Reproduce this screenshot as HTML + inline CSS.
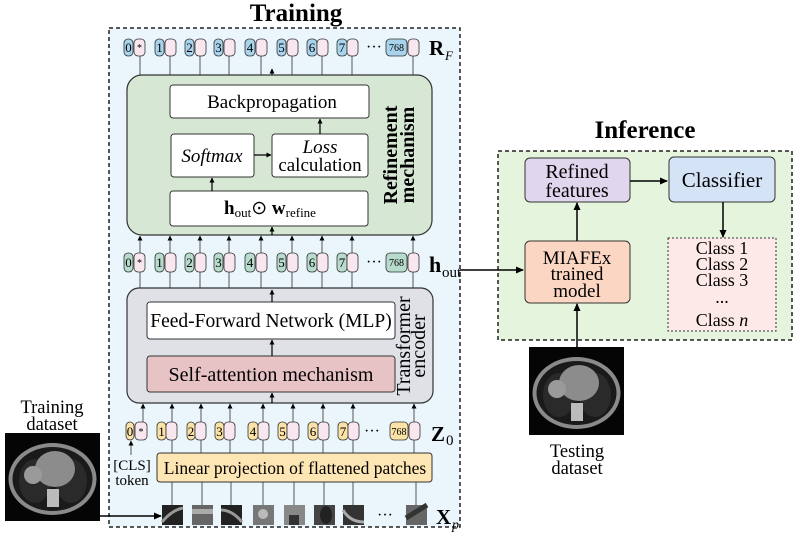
<!DOCTYPE html>
<html><head><meta charset="utf-8"><style>
html,body{margin:0;padding:0;background:#fff}
svg{display:block;font-family:"Liberation Serif",serif}
</style></head><body>
<svg width="797" height="536" viewBox="0 0 797 536" xmlns="http://www.w3.org/2000/svg">
<defs>
<marker id="ah" markerWidth="8" markerHeight="8" refX="7" refY="4" orient="auto" markerUnits="userSpaceOnUse"><path d="M0,0.5 L8,4 L0,7.5 z" fill="#000"/></marker>
<marker id="as" markerWidth="5" markerHeight="5" refX="4.5" refY="2.5" orient="auto" markerUnits="userSpaceOnUse"><path d="M0,0 L5,2.5 L0,5 z" fill="#000"/></marker>
<g id="ct">
<rect x="0" y="0" width="95" height="88" fill="#050505"/>
<ellipse cx="47.5" cy="46" rx="44" ry="36" fill="#8a8a8a"/>
<ellipse cx="47.5" cy="46" rx="40" ry="32" fill="#1a1a1a"/>
<ellipse cx="30" cy="48" rx="16" ry="22" fill="#2a2a2a"/>
<ellipse cx="66" cy="48" rx="16" ry="22" fill="#2a2a2a"/>
<ellipse cx="50" cy="36" rx="20" ry="18" fill="#8c8c8c"/>
<circle cx="28" cy="42" r="9" fill="#9a9a9a"/>
<rect x="42" y="56" width="12" height="18" fill="#bbb"/>
</g>
</defs>

<!-- Training -->
<text x="296" y="21" font-size="25" font-weight="bold" text-anchor="middle">Training</text>
<rect x="109" y="28" width="351" height="499" fill="#eaf6fb" stroke="#222" stroke-width="1.5" stroke-dasharray="4,3"/>

<g stroke="#555" stroke-width="1">
<line x1="140" y1="55" x2="140" y2="75"/><line x1="170" y1="55" x2="170" y2="75"/><line x1="200" y1="55" x2="200" y2="75"/><line x1="229" y1="55" x2="229" y2="75"/><line x1="261" y1="55" x2="261" y2="75"/><line x1="292" y1="55" x2="292" y2="75"/><line x1="322" y1="55" x2="322" y2="75"/><line x1="352" y1="55" x2="352" y2="75"/><line x1="413" y1="55" x2="413" y2="75"/>
</g>
<line x1="272" y1="75" x2="272" y2="69" stroke="#000" stroke-width="1.2" marker-end="url(#as)"/>

<g stroke="#333" stroke-width="0.8" font-size="13" text-anchor="middle">
<rect x="124" y="39" width="9" height="17" rx="4" fill="#a8d3ec"/><text x="128.5" y="52" stroke="none">0</text>
<rect x="134" y="39" width="11" height="17" rx="4" fill="#f9e7ef"/><text x="139.5" y="51" stroke="none" font-size="10">*</text>
<rect x="155" y="39" width="9" height="17" rx="4" fill="#a8d3ec"/><text x="159.5" y="52" stroke="none">1</text><rect x="165" y="39" width="11" height="17" rx="4" fill="#f9e7ef"/>
<rect x="185" y="39" width="9" height="17" rx="4" fill="#a8d3ec"/><text x="189.5" y="52" stroke="none">2</text><rect x="195" y="39" width="11" height="17" rx="4" fill="#f9e7ef"/>
<rect x="214" y="39" width="9" height="17" rx="4" fill="#a8d3ec"/><text x="218.5" y="52" stroke="none">3</text><rect x="224" y="39" width="11" height="17" rx="4" fill="#f9e7ef"/>
<rect x="245" y="39" width="10" height="17" rx="4" fill="#a8d3ec"/><text x="250" y="52" stroke="none">4</text><rect x="256" y="39" width="11" height="17" rx="4" fill="#f9e7ef"/>
<rect x="277" y="39" width="9" height="17" rx="4" fill="#a8d3ec"/><text x="281.5" y="52" stroke="none">5</text><rect x="287" y="39" width="11" height="17" rx="4" fill="#f9e7ef"/>
<rect x="307" y="39" width="10" height="17" rx="4" fill="#a8d3ec"/><text x="312" y="52" stroke="none">6</text><rect x="317" y="39" width="11" height="17" rx="4" fill="#f9e7ef"/>
<rect x="337" y="39" width="10" height="17" rx="4" fill="#a8d3ec"/><text x="342" y="52" stroke="none">7</text><rect x="347" y="39" width="11" height="17" rx="4" fill="#f9e7ef"/>
<rect x="386" y="39" width="21" height="17" rx="4" fill="#a8d3ec"/><text x="396.5" y="51" stroke="none" font-size="10">768</text><rect x="408" y="39" width="11" height="17" rx="4" fill="#f9e7ef"/>
</g>
<text x="374" y="52" font-size="16" text-anchor="middle">···</text>
<text x="429" y="55" font-size="21" font-weight="bold">R</text><text x="445" y="60" font-size="13" font-style="italic">F</text>

<!-- Refinement -->
<rect x="127" y="75" width="305" height="160" rx="15" fill="#d6e8d4" stroke="#333" stroke-width="1.2"/>
<rect x="170" y="85" width="199" height="33" rx="3" fill="#fff" stroke="#333" stroke-width="1"/>
<text x="272" y="108" font-size="19" text-anchor="middle">Backpropagation</text>
<rect x="171" y="134" width="83" height="43" rx="3" fill="#fff" stroke="#333" stroke-width="1"/>
<text x="212" y="162" font-size="19" font-style="italic" text-anchor="middle">Softmax</text>
<rect x="272" y="134" width="96" height="43" rx="3" fill="#fff" stroke="#333" stroke-width="1"/>
<text x="320" y="153" font-size="19" font-style="italic" text-anchor="middle">Loss</text>
<text x="320" y="171" font-size="19" text-anchor="middle">calculation</text>
<rect x="170" y="191" width="198" height="35" rx="3" fill="#fff" stroke="#333" stroke-width="1"/>
<text x="270" y="214" font-size="19" text-anchor="middle"><tspan font-weight="bold">h</tspan><tspan font-size="13" dy="3">out</tspan><tspan dy="-3">⊙ </tspan><tspan font-weight="bold">w</tspan><tspan font-size="13" dy="3">refine</tspan></text>
<text transform="translate(400,155) rotate(-90)" font-size="20" font-weight="bold" text-anchor="middle"><tspan x="0" y="-3">Refinement</tspan><tspan x="0" y="14">mechanism</tspan></text>
<line x1="320" y1="134" x2="320" y2="119" stroke="#000" stroke-width="1.2" marker-end="url(#as)"/>
<line x1="254" y1="155" x2="271" y2="155" stroke="#000" stroke-width="1.2" marker-end="url(#as)"/>
<line x1="212" y1="191" x2="212" y2="178" stroke="#000" stroke-width="1.2" marker-end="url(#as)"/>
<line x1="272" y1="235" x2="272" y2="227" stroke="#000" stroke-width="1.2" marker-end="url(#as)"/>

<g stroke="#555" stroke-width="1" marker-end="url(#as)">
<line x1="140" y1="288" x2="140" y2="236"/><line x1="170" y1="288" x2="170" y2="236"/><line x1="200" y1="288" x2="200" y2="236"/><line x1="229" y1="288" x2="229" y2="236"/><line x1="261" y1="288" x2="261" y2="236"/><line x1="292" y1="288" x2="292" y2="236"/><line x1="322" y1="288" x2="322" y2="236"/><line x1="352" y1="288" x2="352" y2="236"/><line x1="413" y1="288" x2="413" y2="236"/>
</g>
<g stroke="#333" stroke-width="0.8" font-size="13" text-anchor="middle">
<rect x="124" y="253" width="9" height="19" rx="4" fill="#b7dccd"/><text x="128.5" y="267" stroke="none">0</text>
<rect x="134" y="253" width="11" height="19" rx="4" fill="#f9e7ef"/><text x="139.5" y="266" stroke="none" font-size="10">*</text>
<rect x="155" y="253" width="9" height="19" rx="4" fill="#b7dccd"/><text x="159.5" y="267" stroke="none">1</text><rect x="165" y="253" width="11" height="19" rx="4" fill="#f9e7ef"/>
<rect x="185" y="253" width="9" height="19" rx="4" fill="#b7dccd"/><text x="189.5" y="267" stroke="none">2</text><rect x="195" y="253" width="11" height="19" rx="4" fill="#f9e7ef"/>
<rect x="214" y="253" width="9" height="19" rx="4" fill="#b7dccd"/><text x="218.5" y="267" stroke="none">3</text><rect x="224" y="253" width="11" height="19" rx="4" fill="#f9e7ef"/>
<rect x="245" y="253" width="10" height="19" rx="4" fill="#b7dccd"/><text x="250" y="267" stroke="none">4</text><rect x="256" y="253" width="11" height="19" rx="4" fill="#f9e7ef"/>
<rect x="277" y="253" width="9" height="19" rx="4" fill="#b7dccd"/><text x="281.5" y="267" stroke="none">5</text><rect x="287" y="253" width="11" height="19" rx="4" fill="#f9e7ef"/>
<rect x="307" y="253" width="10" height="19" rx="4" fill="#b7dccd"/><text x="312" y="267" stroke="none">6</text><rect x="317" y="253" width="11" height="19" rx="4" fill="#f9e7ef"/>
<rect x="337" y="253" width="10" height="19" rx="4" fill="#b7dccd"/><text x="342" y="267" stroke="none">7</text><rect x="347" y="253" width="11" height="19" rx="4" fill="#f9e7ef"/>
<rect x="386" y="253" width="21" height="19" rx="4" fill="#b7dccd"/><text x="396.5" y="266" stroke="none" font-size="10">768</text><rect x="408" y="253" width="11" height="19" rx="4" fill="#f9e7ef"/>
</g>
<text x="374" y="267" font-size="16" text-anchor="middle">···</text>
<text x="429" y="272" font-size="22" font-weight="bold">h</text><text x="442" y="277" font-size="15">out</text>

<!-- Transformer -->
<rect x="127" y="288" width="306" height="115" rx="12" fill="#dfe1e6" stroke="#333" stroke-width="1.2"/>
<rect x="147" y="302" width="248" height="37" rx="3" fill="#fff" stroke="#333" stroke-width="1"/>
<text x="271" y="327" font-size="19.5" text-anchor="middle">Feed-Forward Network (MLP)</text>
<rect x="147" y="356" width="248" height="36" rx="3" fill="#e8c3c5" stroke="#333" stroke-width="1"/>
<text x="271" y="381" font-size="20" text-anchor="middle">Self-attention mechanism</text>
<text transform="translate(413,346) rotate(-90)" font-size="20" text-anchor="middle"><tspan x="0" y="-3">Transformer</tspan><tspan x="0" y="12">encoder</tspan></text>
<line x1="272" y1="356" x2="272" y2="340" stroke="#000" stroke-width="1.2" marker-end="url(#as)"/>
<line x1="272" y1="302" x2="272" y2="290" stroke="#000" stroke-width="1.2" marker-end="url(#as)"/>
<line x1="272" y1="403" x2="272" y2="393" stroke="#000" stroke-width="1.2" marker-end="url(#as)"/>

<g stroke="#555" stroke-width="1" marker-end="url(#as)">
<line x1="143" y1="422" x2="143" y2="404"/><line x1="172" y1="453" x2="172" y2="404"/><line x1="201" y1="422" x2="201" y2="404"/><line x1="230" y1="422" x2="230" y2="404"/><line x1="263" y1="453" x2="263" y2="404"/><line x1="293" y1="422" x2="293" y2="404"/><line x1="323" y1="422" x2="323" y2="404"/><line x1="353" y1="422" x2="353" y2="404"/><line x1="414" y1="453" x2="414" y2="404"/>
</g>
<g stroke="#555" stroke-width="1">
<line x1="201" y1="440" x2="201" y2="453"/><line x1="230" y1="440" x2="230" y2="453"/><line x1="293" y1="440" x2="293" y2="453"/><line x1="323" y1="440" x2="323" y2="453"/><line x1="353" y1="440" x2="353" y2="453"/>
<line x1="172" y1="482" x2="172" y2="505"/><line x1="202" y1="482" x2="202" y2="505"/><line x1="231" y1="482" x2="231" y2="505"/><line x1="263" y1="482" x2="263" y2="505"/><line x1="294" y1="482" x2="294" y2="505"/><line x1="324" y1="482" x2="324" y2="505"/><line x1="353" y1="482" x2="353" y2="505"/><line x1="416" y1="482" x2="416" y2="505"/>
</g>
<g stroke="#333" stroke-width="0.8" font-size="13" text-anchor="middle">
<rect x="126" y="422" width="8" height="18" rx="4" fill="#fbe2a6"/><text x="130" y="436" stroke="none">0</text>
<rect x="135" y="422" width="12" height="18" rx="4" fill="#f9e7ef"/><text x="141" y="435" stroke="none" font-size="10">*</text>
<rect x="157" y="422" width="9" height="18" rx="4" fill="#fbe2a6"/><text x="161.5" y="436" stroke="none">1</text><rect x="166" y="422" width="11" height="18" rx="4" fill="#f9e7ef"/>
<rect x="187" y="422" width="8" height="18" rx="4" fill="#fbe2a6"/><text x="191" y="436" stroke="none">2</text><rect x="195" y="422" width="11" height="18" rx="4" fill="#f9e7ef"/>
<rect x="215" y="422" width="9" height="18" rx="4" fill="#fbe2a6"/><text x="219.5" y="436" stroke="none">3</text><rect x="224" y="422" width="11" height="18" rx="4" fill="#f9e7ef"/>
<rect x="248" y="422" width="10" height="18" rx="4" fill="#fbe2a6"/><text x="253" y="436" stroke="none">4</text><rect x="258" y="422" width="11" height="18" rx="4" fill="#f9e7ef"/>
<rect x="278" y="422" width="9" height="18" rx="4" fill="#fbe2a6"/><text x="282.5" y="436" stroke="none">5</text><rect x="287" y="422" width="12" height="18" rx="4" fill="#f9e7ef"/>
<rect x="308" y="422" width="10" height="18" rx="4" fill="#fbe2a6"/><text x="313" y="436" stroke="none">6</text><rect x="318" y="422" width="11" height="18" rx="4" fill="#f9e7ef"/>
<rect x="338" y="422" width="10" height="18" rx="4" fill="#fbe2a6"/><text x="343" y="436" stroke="none">7</text><rect x="348" y="422" width="11" height="18" rx="4" fill="#f9e7ef"/>
<rect x="390" y="422" width="18" height="18" rx="4" fill="#fbe2a6"/><text x="399" y="435" stroke="none" font-size="10">768</text><rect x="409" y="422" width="11" height="18" rx="4" fill="#f9e7ef"/>
</g>
<text x="372" y="436" font-size="16" text-anchor="middle">···</text>
<text x="431" y="441" font-size="21" font-weight="bold">Z</text><text x="446" y="445" font-size="15">0</text>

<line x1="131" y1="455" x2="131" y2="441" stroke="#555" stroke-width="1" marker-end="url(#as)"/>
<text x="132" y="470" font-size="15" text-anchor="middle">[CLS]</text>
<text x="132" y="485" font-size="15" text-anchor="middle">token</text>

<rect x="157" y="453" width="275" height="29" rx="3" fill="#fde6b4" stroke="#333" stroke-width="1"/>
<text x="295" y="474" font-size="17.5" text-anchor="middle">Linear projection of flattened patches</text>

<rect x="162" y="505" width="21" height="20" fill="#222"/><path d="M162,522 Q172,510 183,508" stroke="#999" stroke-width="3" fill="none"/>
<rect x="192" y="505" width="21" height="20" fill="#666"/><rect x="192" y="509" width="21" height="5" fill="#aaa"/>
<rect x="221" y="505" width="21" height="20" fill="#222"/><path d="M221,510 Q232,510 242,522" stroke="#999" stroke-width="3" fill="none"/>
<rect x="253" y="505" width="21" height="20" fill="#777"/><circle cx="263" cy="514" r="5" fill="#bbb"/>
<rect x="284" y="505" width="21" height="20" fill="#888"/><rect x="289" y="515" width="10" height="10" fill="#333"/>
<rect x="314" y="505" width="21" height="20" fill="#444"/><ellipse cx="326" cy="515" rx="6" ry="9" fill="#222"/>
<rect x="343" y="505" width="21" height="20" fill="#333"/><path d="M343,510 Q350,522 364,522" stroke="#aaa" stroke-width="3" fill="none"/>
<text x="385" y="520" font-size="16" text-anchor="middle">···</text>
<rect x="406" y="505" width="21" height="20" fill="#666"/><path d="M406,518 L427,505" stroke="#333" stroke-width="5"/>
<text x="436" y="524" font-size="21" font-weight="bold">X</text><text x="452" y="529" font-size="14" font-style="italic">p</text>

<text x="52" y="413" font-size="18.5" text-anchor="middle">Training</text>
<text x="52" y="430" font-size="18.5" text-anchor="middle">dataset</text>
<use href="#ct" x="5" y="433"/>
<line x1="100" y1="516" x2="161" y2="516" stroke="#000" stroke-width="1.5" marker-end="url(#ah)"/>

<!-- Inference -->
<text x="645" y="138" font-size="25" font-weight="bold" text-anchor="middle">Inference</text>
<rect x="498" y="151" width="294" height="189" fill="#e5f5dd" stroke="#222" stroke-width="1.5" stroke-dasharray="4,3"/>
<rect x="525" y="158" width="105" height="44" rx="5" fill="#e0d6ed" stroke="#333" stroke-width="1"/>
<text x="577" y="178" font-size="20" text-anchor="middle">Refined</text>
<text x="577" y="197" font-size="20" text-anchor="middle">features</text>
<rect x="669" y="157" width="106" height="45" rx="5" fill="#d5e3f7" stroke="#333" stroke-width="1"/>
<text x="722" y="187" font-size="21" text-anchor="middle">Classifier</text>
<rect x="525" y="241" width="105" height="62" rx="5" fill="#fbd6c2" stroke="#333" stroke-width="1"/>
<text x="577" y="264" font-size="19" text-anchor="middle">MIAFEx</text>
<text x="577" y="280" font-size="19" text-anchor="middle">trained</text>
<text x="577" y="297" font-size="19" text-anchor="middle">model</text>
<rect x="668" y="238" width="108" height="93" fill="#fde9e7" stroke="#333" stroke-width="1" stroke-dasharray="2,2"/>
<g font-size="18" text-anchor="middle">
<text x="722" y="254">Class 1</text><text x="722" y="270">Class 2</text><text x="722" y="286">Class 3</text><text x="722" y="303">...</text><text x="722" y="326">Class <tspan font-style="italic">n</tspan></text>
</g>
<line x1="630" y1="181" x2="667" y2="181" stroke="#000" stroke-width="1.5" marker-end="url(#ah)"/>
<line x1="723" y1="202" x2="723" y2="237" stroke="#000" stroke-width="1.5" marker-end="url(#ah)"/>
<line x1="577" y1="241" x2="577" y2="203" stroke="#000" stroke-width="1.5" marker-end="url(#ah)"/>
<line x1="460" y1="270" x2="523" y2="270" stroke="#000" stroke-width="1.5" marker-end="url(#ah)"/>
<use href="#ct" x="529" y="347"/>
<line x1="577" y1="347" x2="577" y2="304" stroke="#000" stroke-width="1.5" marker-end="url(#ah)"/>
<text x="577" y="457" font-size="18.5" text-anchor="middle">Testing</text>
<text x="577" y="474" font-size="18.5" text-anchor="middle">dataset</text>
</svg>
</body></html>
